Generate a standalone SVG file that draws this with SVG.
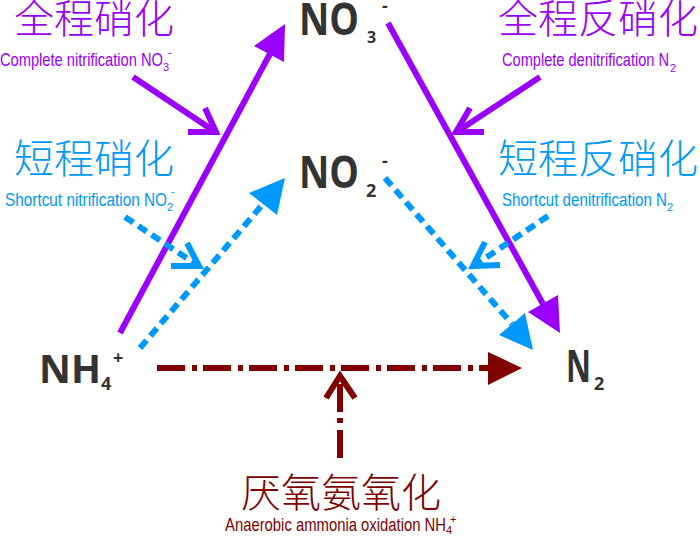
<svg xmlns="http://www.w3.org/2000/svg" width="700" height="536" viewBox="0 0 700 536">
<style>
.cjk{font-family:"Noto Sans CJK SC","Noto Sans",sans-serif;font-size:40px;font-weight:300}
.en{font-family:"Liberation Sans Narrow","Liberation Sans",sans-serif;font-size:19px}
.ens{font-family:"Liberation Sans Narrow","Liberation Sans",sans-serif;font-size:11px}
.chem{font-family:"Open Sans","Noto Sans",sans-serif;font-weight:bold;fill:#333}
.pu{fill:#9900ff}
.bl{fill:#0099ff}
.mr{fill:#800000}
.lp{stroke:#9900ff;stroke-width:6;fill:none}
.lb{stroke:#0099ff;stroke-width:6;fill:none;stroke-dasharray:10 6}
.lm{stroke:#800000;stroke-width:6;fill:none;stroke-dasharray:28 7 5 6}
.chev{fill:none;stroke-width:6;stroke-linejoin:miter}
</style>
<g id="connectors">
  <line class="lp" x1="120" y1="333" x2="272" y2="50"/>
  <polygon class="pu" points="285,24 254,46 284,62"/>
  <line class="lp" x1="388" y1="23" x2="543" y2="304"/>
  <polygon class="pu" points="560,333 528,312 558,295"/>
  <line class="lb" x1="140" y1="348" x2="263" y2="204"/>
  <polygon class="bl" points="285,178 249,193 277,215"/>
  <line class="lb" x1="385" y1="178" x2="512" y2="324"/>
  <polygon class="bl" points="533,350 499,335 525,313"/>
  <line class="lm" x1="157" y1="368" x2="490" y2="368"/>
  <polygon class="mr" points="522,368 488,352 488,385"/>
  <line class="lm" x1="340" y1="458" x2="340" y2="376"/>
  <polyline class="chev" stroke="#800000" points="326,398 340,376 355,398"/>
  <line class="lp" x1="133" y1="77" x2="214" y2="131"/>
  <polyline class="chev" stroke="#9900ff" points="205,108 216,132 188,132"/>
  <line class="lp" x1="540" y1="77" x2="458" y2="131"/>
  <polyline class="chev" stroke="#9900ff" points="470,108 456,132 484,132"/>
  <line class="lb" x1="125" y1="217" x2="197" y2="265"/>
  <polyline class="chev" stroke="#0099ff" points="187,243 199,266 171,266"/>
  <line class="lb" x1="548" y1="216" x2="475" y2="265"/>
  <polyline class="chev" stroke="#0099ff" points="485,242 473,266 500,265"/>
</g>
<g id="no3">
  <text class="chem" x="299" y="35" font-size="44" textLength="60" lengthAdjust="spacingAndGlyphs">NO</text>
  <text class="chem" x="367" y="43" font-size="16">3</text>
  <text class="chem" x="382" y="12" font-size="18">-</text>
</g>
<g id="no2">
  <text class="chem" x="299" y="188" font-size="44" textLength="60" lengthAdjust="spacingAndGlyphs">NO</text>
  <text class="chem" x="366" y="197" font-size="18">2</text>
  <text class="chem" x="382" y="167" font-size="18">-</text>
</g>
<g id="nh4">
  <text class="chem" x="39" y="383" font-size="39" textLength="62" lengthAdjust="spacingAndGlyphs">NH</text>
  <text class="chem" x="101" y="390" font-size="18">4</text>
  <text class="chem" x="113" y="364" font-size="18">+</text>
</g>
<g id="n2">
  <text class="chem" x="566" y="382" font-size="44" textLength="25" lengthAdjust="spacingAndGlyphs">N</text>
  <text class="chem" x="594" y="390" font-size="18">2</text>
</g>
<g id="complete-nitrification">
  <text class="cjk pu" x="14" y="33">全程硝化</text>
  <text class="en pu" x="0" y="66" textLength="163" lengthAdjust="spacingAndGlyphs">Complete nitrification NO</text>
  <text class="ens pu" x="163" y="71">3</text>
  <text class="ens pu" x="168" y="56">-</text>
</g>
<g id="complete-denitrification">
  <text class="cjk pu" x="498" y="33">全程反硝化</text>
  <text class="en pu" x="502" y="66" textLength="167" lengthAdjust="spacingAndGlyphs">Complete denitrification N</text>
  <text class="ens pu" x="670" y="72">2</text>
</g>
<g id="shortcut-nitrification">
  <text class="cjk bl" x="14" y="173">短程硝化</text>
  <text class="en bl" x="5" y="206" textLength="162" lengthAdjust="spacingAndGlyphs">Shortcut nitrification NO</text>
  <text class="ens bl" x="167" y="211">2</text>
  <text class="ens bl" x="171" y="195">-</text>
</g>
<g id="shortcut-denitrification">
  <text class="cjk bl" x="498" y="173">短程反硝化</text>
  <text class="en bl" x="502" y="206" textLength="165" lengthAdjust="spacingAndGlyphs">Shortcut denitrification N</text>
  <text class="ens bl" x="667" y="211">2</text>
</g>
<g id="anammox">
  <text class="cjk mr" x="241" y="507">厌氧氨氧化</text>
  <text class="en mr" x="225" y="531" textLength="221" lengthAdjust="spacingAndGlyphs">Anaerobic ammonia oxidation NH</text>
  <text class="ens mr" x="446" y="534">4</text>
  <text class="ens mr" x="450" y="523">+</text>
</g>
</svg>
